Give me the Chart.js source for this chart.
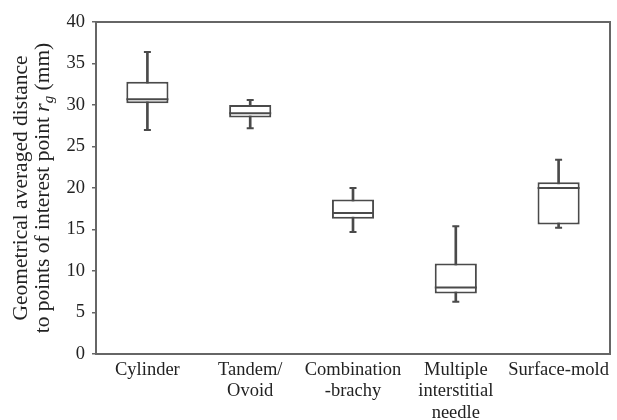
<!DOCTYPE html>
<html>
<head>
<meta charset="utf-8">
<script src="https://cdn.jsdelivr.net/npm/chart.js@4.4.1/dist/chart.umd.min.js"></script>
<style>
  html, body { margin: 0; padding: 0; background: #fff; }
  #wrap { width: 617px; height: 420px; }
</style>
</head>
<body>
<div id="wrap"><canvas id="boxChart" width="617" height="420"></canvas></div>
<script>
// 치료 기법별 rg 분포 (box plot)
const categories = ['Cylinder', ['Tandem/', 'Ovoid'], ['Combination', '-brachy'], ['Multiple', 'interstitial', 'needle'], 'Surface-mold'];
const minVals = [27.0, 27.2, 14.7, 6.3, 15.2];
const q1Vals = [30.2, 28.5, 16.3, 7.3, 15.6];
const medVals = [30.7, 29.0, 17.0, 8.0, 20.0];
const q3Vals = [32.8, 30.0, 18.6, 10.9, 20.7];
const maxVals = [36.4, 30.6, 20.0, 15.4, 23.4];
const yTicks = [0, 5, 10, 15, 20, 25, 30, 35, 40];

const SERIF = "'Liberation Serif', 'Times New Roman', serif";
const INK = '#4a4a4a';
const AXIS = '#666';

// 위/오른쪽 테두리
const framePlugin = {
    id: 'frame',
    afterDraw(chart) {
        const { ctx, chartArea: a } = chart;
        ctx.save();
        ctx.strokeStyle = AXIS;
        ctx.lineWidth = 2;
        ctx.beginPath();
        ctx.moveTo(a.left, a.top);
        ctx.lineTo(a.right, a.top);
        ctx.lineTo(a.right, a.bottom);
        ctx.stroke();
        ctx.restore();
    }
};

// y축 제목 (r 이탤릭 + g 아래첨자)
const yTitlePlugin = {
    id: 'yTitle',
    afterDraw(chart) {
        const { ctx, chartArea: a } = chart;
        const cy = (a.top + a.bottom) / 2;
        const size = 21.5;
        ctx.save();
        ctx.fillStyle = '#222';
        ctx.textBaseline = 'alphabetic';

        // line 1
        ctx.save();
        ctx.translate(27, cy);
        ctx.rotate(-Math.PI / 2);
        ctx.font = `${size}px ${SERIF}`;
        ctx.textAlign = 'center';
        ctx.fillText('Geometrical averaged distance', 0, 0);
        ctx.restore();

        // line 2
        const parts = [
            { t: 'to points of interest point ', f: `${size}px ${SERIF}`, dy: 0 },
            { t: 'r', f: `italic ${size}px ${SERIF}`, dy: 0 },
            { t: 'g', f: `italic ${Math.round(size * 0.7)}px ${SERIF}`, dy: 4 },
            { t: ' (mm)', f: `${size}px ${SERIF}`, dy: 0 }
        ];
        let total = 0;
        parts.forEach(p => { ctx.font = p.f; p.w = ctx.measureText(p.t).width; total += p.w; });
        ctx.save();
        ctx.translate(49, cy);
        ctx.rotate(-Math.PI / 2);
        ctx.textAlign = 'left';
        let x = -total / 2;
        parts.forEach(p => {
            ctx.font = p.f;
            ctx.fillText(p.t, x, p.dy);
            x += p.w;
        });
        ctx.restore();
        ctx.restore();
    }
};

const ctx = document.getElementById('boxChart');
new Chart(ctx, {
    data: {
        labels: categories,
        datasets: [
            {
                type: 'line',
                label: 'median',
                data: medVals,
                showLine: false,
                pointStyle: 'line',
                pointRadius: 21,
                pointHoverRadius: 21,
                borderColor: INK,
                borderWidth: 2,
                order: 0
            },
            {
                type: 'line',
                label: 'max',
                data: maxVals,
                showLine: false,
                pointStyle: 'line',
                pointRadius: 3.5,
                pointHoverRadius: 3.5,
                borderColor: INK,
                borderWidth: 2,
                order: 0
            },
            {
                type: 'line',
                label: 'min',
                data: minVals,
                showLine: false,
                pointStyle: 'line',
                pointRadius: 3.5,
                pointHoverRadius: 3.5,
                borderColor: INK,
                borderWidth: 2,
                order: 0
            },
            {
                type: 'bar',
                label: 'box',
                data: q1Vals.map((q, i) => [q, q3Vals[i]]),
                backgroundColor: '#fff',
                borderColor: INK,
                borderWidth: 2,
                borderSkipped: false,
                grouped: false,
                barPercentage: 0.41,
                categoryPercentage: 1.0,
                order: 1
            },
            {
                type: 'bar',
                label: 'whisker',
                data: minVals.map((m, i) => [m, maxVals[i]]),
                backgroundColor: INK,
                borderWidth: 0,
                grouped: false,
                barThickness: 2,
                order: 2
            }
        ]
    },
    options: {
        responsive: false,
        animation: false,
        layout: {
            autoPadding: false,
            padding: { top: 22, right: 7, left: 0, bottom: 0 }
        },
        plugins: {
            legend: { display: false },
            tooltip: { enabled: false }
        },
        scales: {
            x: {
                type: 'category',
                offset: true,
                afterFit: (scale) => { scale.height = 66; },
                grid: { display: false, drawTicks: false },
                border: { display: true, color: AXIS, width: 2 },
                ticks: {
                    color: '#222',
                    padding: 5,
                    maxRotation: 0,
                    autoSkip: false,
                    font: { family: SERIF, size: 18.5, lineHeight: 1.17 }
                }
            },
            y: {
                min: 0,
                max: 40,
                afterFit: (scale) => { scale.width = 96; },
                afterBuildTicks: (scale) => { scale.ticks = yTicks.map(v => ({ value: v })); },
                grid: {
                    display: true,
                    drawOnChartArea: false,
                    drawTicks: true,
                    tickLength: 4,
                    color: AXIS,
                    lineWidth: 1.5
                },
                border: { display: true, color: AXIS, width: 2 },
                ticks: {
                    color: '#222',
                    padding: 7,
                    font: { family: SERIF, size: 18.5 }
                }
            }
        }
    },
    plugins: [framePlugin, yTitlePlugin]
});
</script>
</body>
</html>
